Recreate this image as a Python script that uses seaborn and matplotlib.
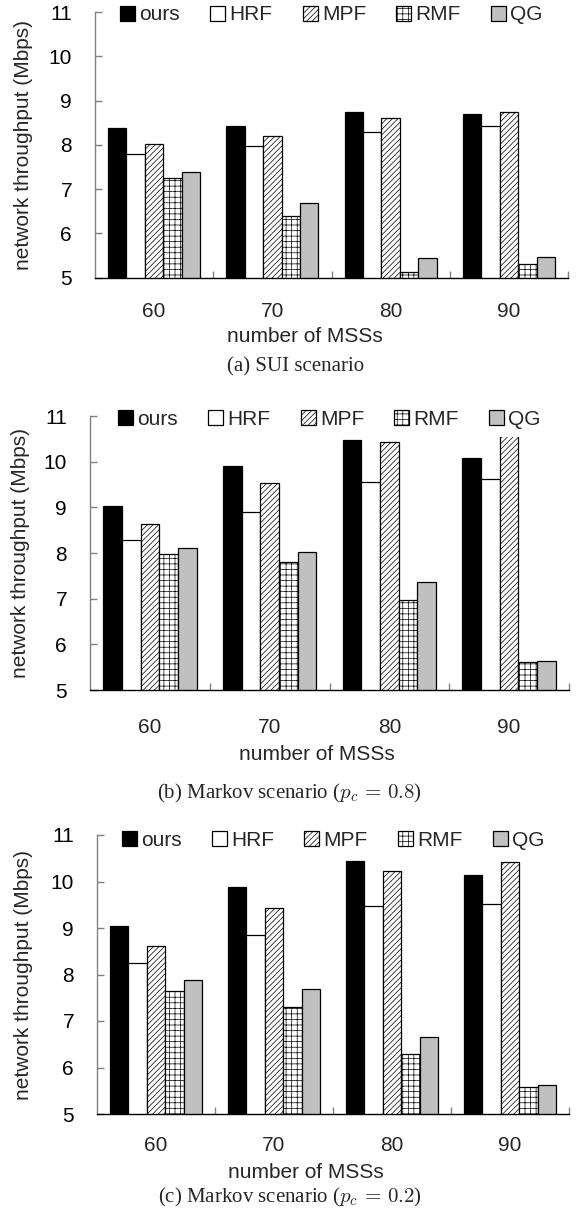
import matplotlib
matplotlib.use("Agg")
import matplotlib.pyplot as plt
import pandas as pd
import seaborn as sns

# ---------------- data ----------------
mss = ["60", "70", "80", "90"]
methods = ["ours", "HRF", "MPF", "RMF", "QG"]

sui_ours = [8.37, 8.43, 8.75, 8.69]
sui_hrf = [7.80, 7.98, 8.30, 8.42]
sui_mpf = [8.01, 8.20, 8.60, 8.75]
sui_rmf = [7.26, 6.39, 5.14, 5.30]
sui_qg = [7.38, 6.69, 5.45, 5.47]

m08_ours = [9.03, 9.91, 10.48, 10.09]
m08_hrf = [8.28, 8.90, 9.56, 9.63]
m08_mpf = [8.64, 9.54, 10.42, 10.70]
m08_rmf = [7.98, 7.81, 6.96, 5.62]
m08_qg = [8.11, 8.03, 7.36, 5.64]

m02_ours = [9.05, 9.89, 10.44, 10.14]
m02_hrf = [8.24, 8.86, 9.48, 9.52]
m02_mpf = [8.62, 9.42, 10.23, 10.41]
m02_rmf = [7.65, 7.31, 6.28, 5.57]
m02_qg = [7.88, 7.68, 6.66, 5.62]

y_ticks = [5, 6, 7, 8, 9, 10, 11]
captions = ["(a) SUI scenario",
            r"(b) Markov scenario ($p_c\,=\,0.8$)",
            r"(c) Markov scenario ($p_c\,=\,0.2$)"]

# ---------------- style ----------------
sns.set_theme(style="ticks")
plt.rcParams['font.family'] = ['Liberation Sans', 'DejaVu Sans']
plt.rcParams['mathtext.fontset'] = 'cm'
plt.rcParams['hatch.linewidth'] = 0.5

face = ["black", "white", "white", "white", "#c0c0c0"]
hatches = ["", "", "//////", "+++", ""]

W, H = 584, 1216
fig = plt.figure(figsize=(W / 100, H / 100), dpi=100)

def long_df(series):
    rows = []
    for m, vals in zip(methods, series):
        for x, v in zip(mss, vals):
            rows.append({"MSS": x, "method": m, "value": v})
    return pd.DataFrame(rows)

panels = [
    dict(series=[sui_ours, sui_hrf, sui_mpf, sui_rmf, sui_qg],
         box=(95, 568, 12, 277.7), leg_y=15, xpad=17.5,
         xl=(305, 337), yl=(24, 145), cap=(296, 367)),
    dict(series=[m08_ours, m08_hrf, m08_mpf, m08_rmf, m08_qg],
         box=(90, 569, 416, 690), leg_y=419, xpad=20.5,
         xl=(317, 755), yl=(21, 553), cap=(289, 793)),
    dict(series=[m02_ours, m02_hrf, m02_mpf, m02_rmf, m02_qg],
         box=(97, 569, 835, 1114), leg_y=840.5, xpad=15.5,
         xl=(306, 1173), yl=(24, 975), cap=(290, 1197)),
]

for p, cap in zip(panels, captions):
    x0, x1, yt, yb = p["box"]
    ax = fig.add_axes([x0 / W, 1 - yb / H, (x1 - x0) / W, (yb - yt) / H])
    df = long_df(p["series"])
    sns.barplot(data=df, x="MSS", y="value", hue="method", order=mss,
                hue_order=methods, palette=face, saturation=1, width=0.78,
                edgecolor="black", linewidth=0.9, legend=False, ax=ax)
    for cont, h in zip(ax.containers, hatches):
        for bar in cont:
            bar.set_hatch(h)
    ax.set_ylim(5, 11)
    ax.set_xlim(-0.5, 3.5)
    ax.set_yticks(y_ticks)
    ax.set_xlabel("")
    ax.set_ylabel("")
    for s in ["top", "right"]:
        ax.spines[s].set_visible(False)
    ax.spines["left"].set_color("#808080")
    ax.spines["left"].set_linewidth(1.0)
    ax.spines["bottom"].set_color("black")
    ax.spines["bottom"].set_linewidth(1.0)
    ax.tick_params(axis="y", direction="in", length=5, width=1, color="#808080",
                   labelsize=15, pad=16.5, left=True, labelcolor="black")
    ax.set_xticks([0.5, 1.5, 2.5, 3.5], minor=True)
    ax.tick_params(axis="x", which="minor", direction="in", length=5, width=1,
                   color="#808080", bottom=True)
    ax.tick_params(axis="x", which="major", length=0, labelsize=15, pad=p["xpad"])
    ax.legend(ax.containers, methods, loc="center", bbox_to_anchor=(0.5, 1 - (p["leg_y"] - yt) / (yb - yt)),
              ncol=5, frameon=True, facecolor="white", edgecolor="none", framealpha=1,
              fancybox=False, handlelength=0.72, handleheight=0.72, handletextpad=0.2,
              columnspacing=1.45, borderpad=0.4, borderaxespad=0, fontsize=15)
    fig.text(p["xl"][0] / W, 1 - p["xl"][1] / H, "number of MSSs", ha="center", va="center",
             fontsize=15)
    fig.text(p["yl"][0] / W, 1 - p["yl"][1] / H, "network throughput (Mbps)", ha="center",
             va="center", rotation=90, fontsize=15)
    fig.text(p["cap"][0] / W, 1 - p["cap"][1] / H, cap, ha="center", va="center",
             fontsize=15, family=["Liberation Serif", "DejaVu Serif"])

fig.savefig("out.png", dpi=100)
